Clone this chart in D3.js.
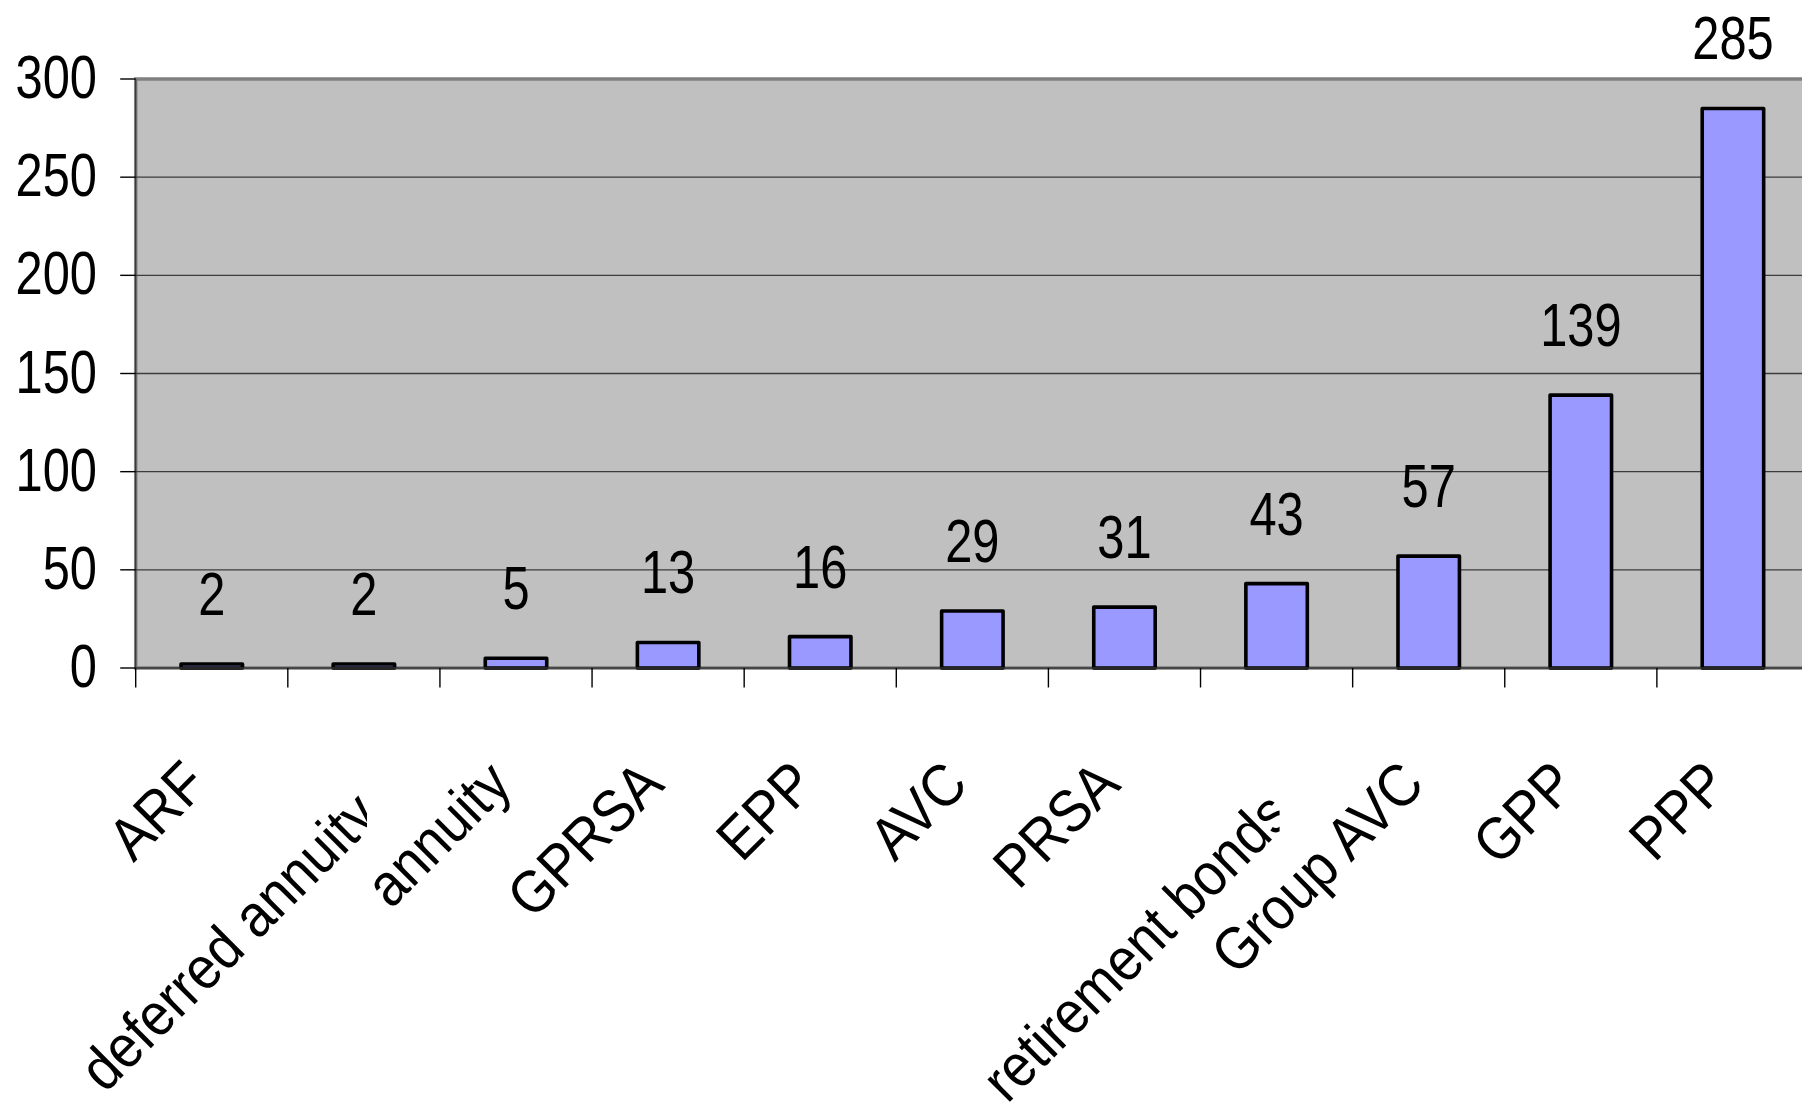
<!DOCTYPE html>
<html>
<head>
<meta charset="utf-8">
<script src="https://cdn.jsdelivr.net/npm/d3@7/dist/d3.min.js"></script>
<style>
  html, body { margin: 0; padding: 0; background: #fff; overflow: hidden; }
  svg { display: block; }
  text { font-family: "Liberation Sans", Arial, Helvetica, sans-serif; fill: #000; }
</style>
</head>
<body>
<svg id="chart" width="1802" height="1110"></svg>
<script>
// Pension product counts
const categories = ["ARF", "deferred annuity", "annuity", "GPRSA", "EPP", "AVC",
                    "PRSA", "retirement bonds", "Group AVC", "GPP", "PPP"];
const values = [2, 2, 5, 13, 16, 29, 31, 43, 57, 139, 285];
const yTickValues = [0, 50, 100, 150, 200, 250, 300];

const W = 1802, H = 1110;
const plot = { left: 135.7, right: 1809, top: 79, bottom: 668 };

const svg = d3.select("#chart");
svg.append("rect").attr("width", W).attr("height", H).attr("fill", "#fff");

const x = d3.scaleBand()
  .domain(categories)
  .range([plot.left, plot.right])
  .paddingInner(0.596)
  .paddingOuter(0.298);

const y = d3.scaleLinear().domain([0, 300]).range([plot.bottom, plot.top]);

const step = x.step();
const bandLeft = d => x(d) - step * x.paddingOuter();
const center = d => x(d) + x.bandwidth() / 2;

// plot area background and border
svg.append("rect")
  .attr("x", plot.left).attr("y", plot.top)
  .attr("width", plot.right - plot.left).attr("height", plot.bottom - plot.top)
  .attr("fill", "#c0c0c0")
  .attr("stroke", "#808080").attr("stroke-width", 3.5);

// horizontal gridlines
svg.append("g").selectAll("line")
  .data(yTickValues.filter(v => v > 0 && v < 300))
  .join("line")
  .attr("x1", plot.left).attr("x2", plot.right)
  .attr("y1", d => y(d)).attr("y2", d => y(d))
  .attr("stroke", "#3c3c3c").attr("stroke-width", 1.4);

// value axis: line, ticks, labels
const yAxis = svg.append("g");
yAxis.append("line")
  .attr("x1", plot.left).attr("x2", plot.left)
  .attr("y1", plot.top).attr("y2", plot.bottom)
  .attr("stroke", "#333").attr("stroke-width", 1.2);
yAxis.selectAll("line.tick")
  .data(yTickValues).join("line").attr("class", "tick")
  .attr("x1", plot.left - 15.5).attr("x2", plot.left)
  .attr("y1", d => y(d)).attr("y2", d => y(d))
  .attr("stroke", "#000").attr("stroke-width", 1.4);
yAxis.selectAll("text")
  .data(yTickValues).join("text")
  .attr("transform", d => `translate(97,${y(d) + 19}) scale(0.8,1)`)
  .attr("text-anchor", "end")
  .attr("font-size", 61)
  .text(d => d);

// bars
svg.append("g").selectAll("rect")
  .data(values)
  .join("rect")
  .attr("x", (d, i) => x(categories[i]))
  .attr("y", d => y(d))
  .attr("width", x.bandwidth())
  .attr("height", d => y(0) - y(d))
  .attr("fill", "#9999ff")
  .attr("stroke", "#000")
  .attr("stroke-width", 3.6)
  .attr("stroke-linejoin", "round");

// category axis line and ticks
const xAxis = svg.append("g");
xAxis.append("line")
  .attr("x1", plot.left).attr("x2", plot.right)
  .attr("y1", plot.bottom).attr("y2", plot.bottom)
  .attr("stroke", "#333").attr("stroke-width", 1.4);
xAxis.selectAll("line.tick")
  .data(categories).join("line").attr("class", "tick")
  .attr("x1", d => bandLeft(d)).attr("x2", d => bandLeft(d))
  .attr("y1", plot.bottom).attr("y2", plot.bottom + 19.5)
  .attr("stroke", "#000").attr("stroke-width", 1.4);

// value labels above the bars
svg.append("g").selectAll("text")
  .data(values)
  .join("text")
  .attr("transform", (d, i) => `translate(${center(categories[i])},${y(d) - 49}) scale(0.8,1)`)
  .attr("text-anchor", "middle")
  .attr("font-size", 61)
  .text(d => d);

// rotated category labels; labels too long for their slot are
// pushed down toward the bottom edge and cut off at the slot's edge
const maxLabelLength = 340;
const defs = svg.append("defs");
const labels = svg.append("g");
categories.forEach((c, i) => {
  const cx = center(c);
  const id = "clip-cat-" + i;
  defs.append("clipPath").attr("id", id)
    .attr("clipPathUnits", "userSpaceOnUse")
    .append("rect")
    .attr("x", 0).attr("y", plot.bottom + 20)
    .attr("width", cx + 3).attr("height", H);
  const text = labels.append("g")
    .attr("clip-path", `url(#${id})`)
    .append("text")
    .attr("text-anchor", "end")
    .attr("font-size", 60)
    .text(c);
  const len = text.node().getComputedTextLength() * 0.9;
  const shift = len > maxLabelLength ? [19, 31] : [0, 0];
  text.attr("transform",
    `translate(${cx - 2 + shift[0]},${787 + shift[1]}) rotate(-45) scale(0.9,1)`);
});
</script>
</body>
</html>
